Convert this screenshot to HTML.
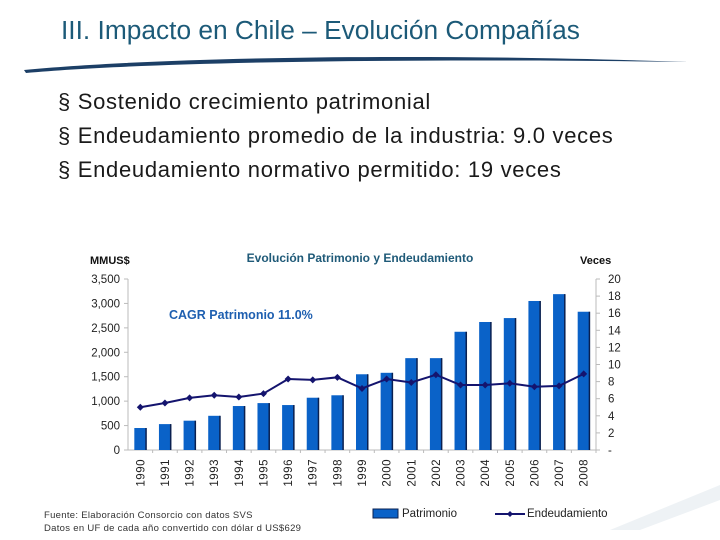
<!DOCTYPE html>
<html><head><meta charset="utf-8"><style>
body{margin:0;width:720px;height:540px;background:#fff;font-family:"Liberation Sans",sans-serif;overflow:hidden;position:relative}
.t{position:absolute}
</style></head><body>
<div class="t" style="left:61px;top:15px;font-size:26.3px;color:#1c5a78;white-space:nowrap">III. Impacto en Chile – Evolución Compañías</div>
<svg class="t" style="left:0;top:0" width="720" height="540">
<path d="M24,70 C150,58 400,52 688,62 C400,58 150,62 26,73 Z" fill="#1c3f66"/>
<path d="M610,530 L720,485 L720,500 L640,530 Z" fill="#eef2f5"/>
</svg>
<div class="t" style="left:58px;top:85px;font-size:22px;color:#1a1a1a;line-height:34px;letter-spacing:0.7px;white-space:nowrap">
<div>§ Sostenido crecimiento patrimonial</div>
<div>§ Endeudamiento promedio de la industria: 9.0 veces</div>
<div>§ Endeudamiento normativo permitido: 19 veces</div>
</div>
<svg id="chart" class="t" style="left:0;top:0" width="720" height="540"></svg>
<div class="t" style="left:44px;top:509px;font-size:9.5px;color:#333;line-height:13px;letter-spacing:0.3px;white-space:nowrap">Fuente: Elaboración Consorcio con datos SVS<br>Datos en UF de cada año convertido con dólar d US$629</div>
<script>
const years=["1990","1991","1992","1993","1994","1995","1996","1997","1998","1999","2000","2001","2002","2003","2004","2005","2006","2007","2008"];
const patrimonio=[450,530,600,700,900,960,920,1070,1120,1550,1580,1880,1880,2420,2620,2700,3050,3190,2830];
const endeudamiento=[5.0,5.5,6.1,6.4,6.2,6.6,8.3,8.2,8.5,7.2,8.3,7.9,8.8,7.6,7.6,7.8,7.4,7.5,8.9];
const leftTicks=[0,500,1000,1500,2000,2500,3000,3500];
const leftLabels=["0","500","1,000","1,500","2,000","2,500","3,000","3,500"];
const rightTicks=[0,2,4,6,8,10,12,14,16,18,20];
const rightLabels=["-","2","4","6","8","10","12","14","16","18","20"];
const NS="http://www.w3.org/2000/svg",svg=document.getElementById('chart');
const X0=128,X1=596,Y0=450,Y1=279;
const band=(X1-X0)/years.length;
const xc=i=>X0+band*(i+0.5);
const yl=v=>Y0-(v/3500)*(Y0-Y1);
const yr=v=>Y0-(v/20)*(Y0-Y1);
function mk(t,a,txt){const e=document.createElementNS(NS,t);for(const k in a)e.setAttribute(k,a[k]);if(txt!=null)e.textContent=txt;svg.appendChild(e);return e;}
let e;
e=mk('text',{x:360,y:262,'text-anchor':'middle','font-size':12,'font-weight':'bold',fill:'#1f5a78','font-family':'Liberation Sans'},'Evolución Patrimonio y Endeudamiento');

e=mk('text',{x:90,y:264,'font-size':11,'font-weight':'bold',fill:'#111','font-family':'Liberation Sans'},'MMUS$');

e=mk('text',{x:580,y:264,'font-size':11,'font-weight':'bold',fill:'#111','font-family':'Liberation Sans'},'Veces');

e=mk('text',{x:169,y:319,'font-size':12.5,'font-weight':'bold',fill:'#1e5fb0','font-family':'Liberation Sans'},'CAGR Patrimonio 11.0%');

e=mk('line',{x1:X0,y1:Y1,x2:X0,y2:Y0,stroke:'#bbb'});
e=mk('line',{x1:X1,y1:Y1,x2:X1,y2:Y0,stroke:'#bbb'});
e=mk('line',{x1:X0,y1:Y0,x2:X1,y2:Y0,stroke:'#bbb'});
leftTicks.forEach((v,i)=>{mk('line',{x1:X0-4,x2:X0,y1:yl(v),y2:yl(v),stroke:'#bbb'});
e=mk('text',{x:X0-8,y:yl(v)+4,'text-anchor':'end','font-size':11.5,fill:'#222','font-family':'Liberation Sans'},leftLabels[i]);
});
rightTicks.forEach((v,i)=>{mk('line',{x1:X1,x2:X1+4,y1:yr(v),y2:yr(v),stroke:'#bbb'});
e=mk('text',{x:X1+12,y:yr(v)+4,'font-size':11.5,fill:'#222','font-family':'Liberation Sans'},rightLabels[i]);
});
years.forEach((y,i)=>{const x=xc(i),top=yl(patrimonio[i]);
e=mk('rect',{x:x-6,y:top,width:12,height:Y0-top,fill:'#0a62c8'});

mk('rect',{x:x+5,y:top,width:1.5,height:Y0-top,fill:'#0a2050'});
mk('line',{x1:X0+band*(i+1),x2:X0+band*(i+1),y1:Y0,y2:Y0+3,stroke:'#bbb'});
e=mk('text',{x:x+4,y:459,'font-size':11.5,fill:'#222','font-family':'Liberation Sans','text-anchor':'end','letter-spacing':'0.5',transform:`rotate(-90 ${x+4} 459)`},y);
});
const pts=endeudamiento.map((v,i)=>xc(i)+','+yr(v)).join(' ');
e=mk('polyline',{points:pts,fill:'none',stroke:'#14146e','stroke-width':2});

endeudamiento.forEach((v,i)=>{const x=xc(i),y=yr(v);
e=mk('path',{d:`M${x},${y-3.5}L${x+3.5},${y}L${x},${y+3.5}L${x-3.5},${y}Z`,fill:'#14146e'});
});
e=mk('rect',{x:373,y:509,width:25,height:9,fill:'#0a62c8',stroke:'#0a2050','stroke-width':1});

e=mk('text',{x:402,y:517,'font-size':11.5,fill:'#222','font-family':'Liberation Sans'},'Patrimonio');

mk('line',{x1:495,x2:525,y1:514,y2:514,stroke:'#14146e','stroke-width':2});
mk('path',{d:'M510,511L513,514L510,517L507,514Z',fill:'#14146e'});
e=mk('text',{x:527,y:517,'font-size':11.5,fill:'#222','font-family':'Liberation Sans'},'Endeudamiento');

</script>
</body></html>
